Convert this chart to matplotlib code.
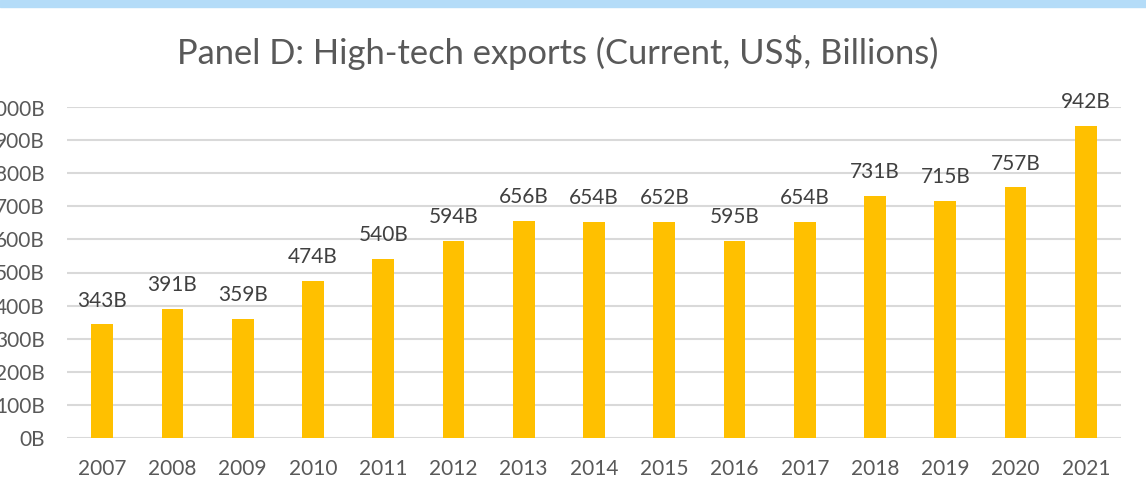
import matplotlib
matplotlib.use("Agg")
import matplotlib.pyplot as plt
from matplotlib.ticker import FuncFormatter, MultipleLocator
import matplotlib.patches as mpatches

years = ["2007", "2008", "2009", "2010", "2011", "2012", "2013", "2014",
         "2015", "2016", "2017", "2018", "2019", "2020", "2021"]
values = [343, 391, 359, 474, 540, 594, 656, 654, 652, 595, 654, 731, 715, 757, 942]
title = "Panel D: High-tech exports (Current, US$, Billions)"

W, H = 1146, 497
fig = plt.figure(figsize=(W / 100, H / 100), dpi=100)
plt.rcParams['font.family'] = ['Lato', 'DejaVu Sans']

# top light-blue strip
fig.patches.append(mpatches.Rectangle((0, 1 - 7 / H), 1, 7 / H, transform=fig.transFigure,
                                      color="#B4DCF8", zorder=0))

left, right = 67 / W, 1121 / W
bottom, top = (H - 438) / H, (H - 107) / H
ax = fig.add_axes([left, bottom, right - left, top - bottom])

x = list(range(len(years)))
bars = ax.bar(x, values, width=0.31, color="#FFC000", zorder=3)
ax.set_xlim(-0.5, len(years) - 0.5)
ax.set_ylim(0, 1000)
ax.yaxis.set_major_locator(MultipleLocator(100))
ax.yaxis.set_major_formatter(FuncFormatter(lambda v, p: f"{int(v):,}B"))
ax.set_xticks(x)
ax.set_xticklabels(years)
ax.grid(axis="y", color="#D9D9D9", linewidth=1.5, zorder=0)
for s in ax.spines.values():
    s.set_visible(False)
ax.tick_params(axis="both", length=0, colors="#595959", labelsize=15)
ax.tick_params(axis="y", pad=16)
ax.tick_params(axis="x", pad=15)

for xi, v in zip(x, values):
    ax.annotate(f"{v}B", (xi, v), xytext=(0, 10), textcoords="offset points",
                ha="center", va="bottom", fontsize=15, color="#404040")

fig.text(0.487, (H - 52) / H, title, ha="center", va="center", fontsize=24.8,
         color="#595959")

fig.savefig("out.png", dpi=100)
